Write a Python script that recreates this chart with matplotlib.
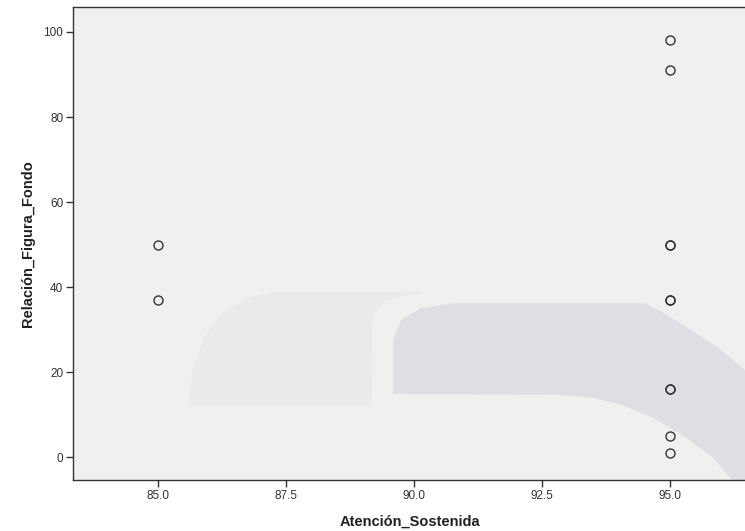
import matplotlib
matplotlib.use('Agg')
import matplotlib.pyplot as plt
from matplotlib.patches import Polygon

# Atención_Sostenida vs Relación_Figura_Fondo (repeated cases drawn on top of each other)
atencion = [85, 85, 95, 95, 95, 95, 95, 95, 95, 95, 95, 95]
relacion = [50, 37, 98, 91, 50, 50, 37, 37, 16, 16, 5, 1]

plt.rcParams['font.family'] = ['Liberation Sans', 'DejaVu Sans']

fig = plt.figure(figsize=(7.45, 5.31), dpi=100)
ax = fig.add_axes([0.098, 0.096, 0.905, 0.891])
ax.set_facecolor('#f0f0f0')


def px(x, y):
    # pixel position on the plot panel -> axes fraction
    return ((x - 73) / 672.0, (480 - y) / 473.0)


# faint background shapes behind the points
light = [(188, 405), (192, 370), (205, 335), (225, 310), (250, 297), (275, 292),
         (423, 292), (385, 300), (372, 315), (370, 405)]
dark = [(392, 394), (392, 340), (400, 320), (420, 308), (454, 303), (643, 303),
        (660, 312), (681, 325), (700, 337), (719, 350), (745, 372), (745, 480),
        (730, 480), (727, 477), (710, 457), (683, 437), (650, 417), (620, 405),
        (593, 398), (560, 395)]
ax.add_patch(Polygon([px(*p) for p in light], closed=True, transform=ax.transAxes,
                     facecolor='#eaeaea', edgecolor='none', zorder=0))
ax.add_patch(Polygon([px(*p) for p in dark], closed=True, transform=ax.transAxes,
                     facecolor='#dfdfe3', edgecolor='none', zorder=0))

ax.plot(atencion, relacion, linestyle='none', marker='o', markersize=6.5,
        markerfacecolor='none', markeredgecolor='#333333', markeredgewidth=1.0,
        zorder=3)

ax.set_xlim(83.34, 96.5)
ax.set_ylim(-5.4, 105.9)
ax.set_xticks([85.0, 87.5, 90.0, 92.5, 95.0])
ax.set_xticklabels(['85.0', '87.5', '90.0', '92.5', '95.0'])
ax.set_yticks([0, 20, 40, 60, 80, 100])

for side in ['left', 'bottom', 'top']:
    ax.spines[side].set_color('#333333')
    ax.spines[side].set_linewidth(1.0)
ax.spines['right'].set_visible(False)

ax.tick_params(direction='out', length=5, width=1.0, color='#333333',
               labelsize=8.5, labelcolor='#333333', pad=2)

ax.set_xlabel('Atención_Sostenida', fontsize=10.5, fontweight='bold',
              color='#222222', labelpad=9)
ax.set_ylabel('Relación_Figura_Fondo', fontsize=10.5, fontweight='bold',
              color='#222222', labelpad=6)

fig.savefig('out.png', dpi=100, facecolor='white')
